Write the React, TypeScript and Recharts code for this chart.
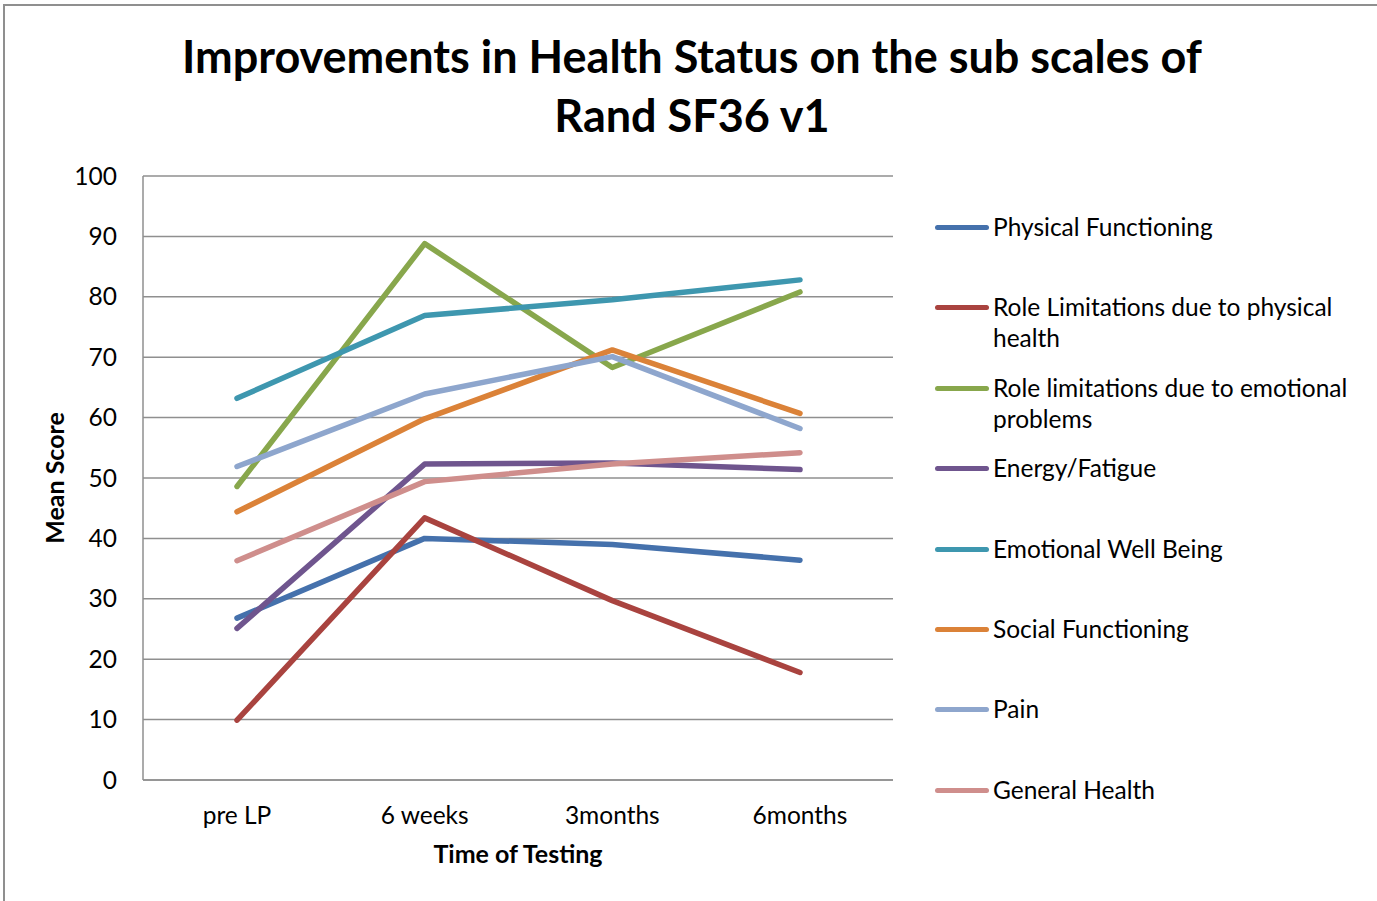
import React from "react";
import { LineChart, Line, XAxis, YAxis, CartesianGrid } from "recharts";

const timepoints = ["pre LP", "6 weeks", "3months", "6months"];
const physicalFunctioning = [26.8, 40.0, 39.0, 36.4];
const roleLimitsPhysical = [9.9, 43.4, 29.7, 17.8];
const roleLimitsEmotional = [48.6, 88.8, 68.3, 80.8];
const energyFatigue = [25.1, 52.3, 52.5, 51.4];
const emotionalWellBeing = [63.2, 76.9, 79.5, 82.8];
const socialFunctioning = [44.4, 59.8, 71.2, 60.7];
const pain = [51.9, 63.9, 70.1, 58.2];
const generalHealth = [36.3, 49.4, 52.3, 54.2];
const yTicks = [0, 10, 20, 30, 40, 50, 60, 70, 80, 90, 100];

const SERIES = [
  { key: "pf", name: "Physical Functioning", color: "#4571AC", values: physicalFunctioning },
  { key: "rp", name: "Role Limitations due to physical health", color: "#A9433F", values: roleLimitsPhysical },
  { key: "re", name: "Role limitations due to emotional problems", color: "#88A74C", values: roleLimitsEmotional },
  { key: "ef", name: "Energy/Fatigue", color: "#6F558E", values: energyFatigue },
  { key: "ew", name: "Emotional Well Being", color: "#3E97AF", values: emotionalWellBeing },
  { key: "sf", name: "Social Functioning", color: "#DB8238", values: socialFunctioning },
  { key: "pa", name: "Pain", color: "#8EA6CD", values: pain },
  { key: "gh", name: "General Health", color: "#CF8E8C", values: generalHealth },
];

const FONT = "Lato, 'Open Sans', sans-serif";
const GRID = "#8f8f8f";
const TICK_SIZE = 24.5;

const data = timepoints.map((t, i) => {
  const row: Record<string, string | number> = { time: t };
  SERIES.forEach((s) => {
    row[s.key] = s.values[i];
  });
  return row;
});

function LegendList() {
  return (
    <div
      style={{
        position: "absolute",
        left: 935,
        top: 211,
        fontFamily: FONT,
        fontSize: TICK_SIZE,
        color: "#000",
      }}
    >
      {SERIES.map((s) => (
        <div key={s.key} style={{ display: "flex", height: 80.4, alignItems: "flex-start" }}>
          <div
            style={{
              width: 54,
              height: 5,
              borderRadius: 3,
              background: s.color,
              marginTop: 14,
              flexShrink: 0,
            }}
          />
          <div style={{ lineHeight: "31px", width: 372, marginLeft: 4 }}>{s.name}</div>
        </div>
      ))}
    </div>
  );
}

export default function App() {
  return (
    <div
      style={{
        position: "absolute",
        left: 0,
        top: 0,
        width: 1377,
        height: 901,
        overflow: "hidden",
        background: "#fff",
      }}
    >
      <div
        style={{
          position: "absolute",
          left: 3,
          top: 4,
          width: 1500,
          height: 1000,
          border: "2px solid #8f8f8f",
        }}
      />
      <div
        style={{
          position: "absolute",
          left: 0,
          top: 27,
          width: 1384,
          textAlign: "center",
          fontFamily: FONT,
          fontWeight: 700,
          fontSize: 45,
          lineHeight: "59px",
        }}
      >
        Improvements in Health Status on the sub scales of
        <br />
        Rand SF36 v1
      </div>
      <div style={{ position: "absolute", left: 0, top: 0 }}>
        <LineChart
          width={1377}
          height={901}
          data={data}
          margin={{ top: 176, right: 484, bottom: 0, left: 0 }}
        >
          <CartesianGrid vertical={false} stroke={GRID} strokeWidth={1.5} />
          <XAxis
            dataKey="time"
            interval={0}
            axisLine={{ stroke: GRID, strokeWidth: 1.5 }}
            tickLine={false}
            tickSize={0}
            tickMargin={27}
            padding={{ left: 94, right: 93 }}
            tick={{ fill: "#000", fontSize: TICK_SIZE, fontFamily: FONT }}
            height={121}
            label={{
              value: "Time of Testing",
              position: "center",
              dy: 14,
              fill: "#000",
              fontSize: 25,
              fontWeight: 700,
              fontFamily: FONT,
            }}
          />
          <YAxis
            width={143}
            domain={[0, 100]}
            ticks={yTicks}
            interval={0}
            axisLine={{ stroke: GRID, strokeWidth: 1.5 }}
            tickLine={false}
            tickSize={0}
            tickMargin={26}
            tick={{ fill: "#000", fontSize: TICK_SIZE, fontFamily: FONT }}
            label={{
              value: "Mean Score",
              angle: -90,
              position: "center",
              dx: -16,
              fill: "#000",
              fontSize: 25,
              fontWeight: 700,
              fontFamily: FONT,
            }}
          />
          {SERIES.map((s) => (
            <Line
              key={s.key}
              dataKey={s.key}
              name={s.name}
              stroke={s.color}
              strokeWidth={5.5}
              strokeLinecap="round"
              strokeLinejoin="round"
              dot={false}
              activeDot={false}
              isAnimationActive={false}
            />
          ))}
        </LineChart>
      </div>
      <LegendList />
    </div>
  );
}
